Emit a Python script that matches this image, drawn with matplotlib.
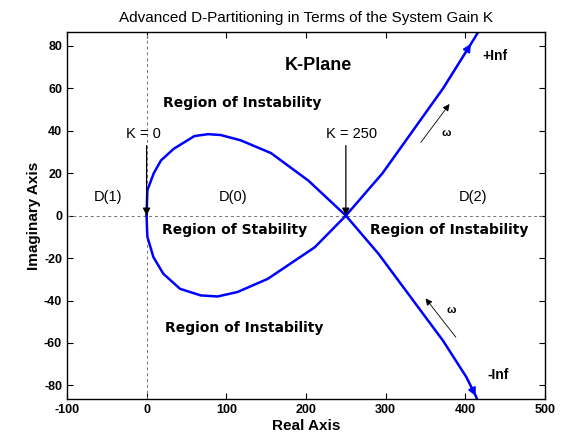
import matplotlib
matplotlib.use("Agg")
import matplotlib.pyplot as plt

plt.rcParams["font.family"] = ["Liberation Sans", "DejaVu Sans"]
plt.rcParams["axes.unicode_minus"] = False

# D-partitioning boundary K(jw), traced branch by branch
upper_loop_x = [0, 0.5, 1, 9, 18, 34, 60, 77, 93, 118, 156, 203, 250]
upper_loop_y = [0, 6, 12, 20, 26, 31.5, 37.5, 38.4, 38, 35.5, 29.5, 16.5, 0]
lower_loop_x = [0, 0.5, 1, 8.6, 21, 42, 68, 89, 114, 152, 211, 250]
lower_loop_y = [0, -6, -10, -19.6, -27.4, -34.5, -37.6, -38.1, -36, -29.8, -14.9, 0]
plus_inf_x = [250, 296, 372, 407, 420]
plus_inf_y = [0, 20, 60, 81, 89]
minus_inf_x = [250, 291, 372, 401, 413, 416]
minus_inf_y = [0, -18, -59, -76, -85, -88]

X_TICKS = [-100, 0, 100, 200, 300, 400, 500]
Y_TICKS = [-80, -60, -40, -20, 0, 20, 40, 60, 80]
K_MARKS = [0, 250]

BLUE = "#0000ff"
REGION_FONT = dict(family="DejaVu Sans", fontsize=10, fontweight="bold",
                   ha="center", va="center")

fig = plt.figure(figsize=(5.62, 4.46), dpi=100)
ax = fig.add_axes([0.119, 0.105, 0.851, 0.823])

ax.axhline(0, color="0.45", linestyle="--", linewidth=0.7, dashes=(3, 3))
ax.axvline(0, color="0.45", linestyle="--", linewidth=0.7, dashes=(3, 3))

for xs, ys in [(upper_loop_x, upper_loop_y), (lower_loop_x, lower_loop_y),
               (plus_inf_x, plus_inf_y), (minus_inf_x, minus_inf_y)]:
    ax.plot(xs, ys, color=BLUE, linewidth=1.8, solid_joinstyle="round")

# direction heads near the ends of the open branches
for xs, ys, i in [(plus_inf_x, plus_inf_y, 3), (minus_inf_x, minus_inf_y, 4)]:
    ax.annotate("", xy=(xs[i], ys[i]), xytext=(xs[i - 1], ys[i - 1]),
                arrowprops=dict(arrowstyle="-|>", color=BLUE, lw=1.2,
                                mutation_scale=12, shrinkA=0, shrinkB=0))

# K markers pointing at the real-axis crossings
for k in K_MARKS:
    ax.annotate("", xy=(k, 0), xytext=(k, 33),
                arrowprops=dict(arrowstyle="-|>", color="black", lw=0.9,
                                mutation_scale=11, shrinkA=0, shrinkB=0))
    ax.text(k + 7 if k else -4, 38.5, f"K = {k}", ha="center", va="center",
            fontsize=10.5)

# omega direction arrows
ax.annotate("", xy=(380, 52.6), xytext=(344, 34.5),
            arrowprops=dict(arrowstyle="-|>", color="black", lw=0.6,
                            mutation_scale=10, shrinkA=0, shrinkB=0))
ax.annotate("", xy=(350, -39), xytext=(388, -57.3),
            arrowprops=dict(arrowstyle="-|>", color="black", lw=0.6,
                            mutation_scale=10, shrinkA=0, shrinkB=0))
ax.text(376, 39, "ω", ha="center", va="center", fontsize=8, fontweight="bold")
ax.text(382, -44.7, "ω", ha="center", va="center", fontsize=8, fontweight="bold")

ax.text(215, 70.6, "K-Plane", ha="center", va="center", fontsize=13, fontweight="bold")
ax.text(120, 53, "Region of Instability", **REGION_FONT)
ax.text(110, -6.7, "Region of Stability", **REGION_FONT)
ax.text(380, -6.7, "Region of Instability", **REGION_FONT)
ax.text(123, -53, "Region of Instability", **REGION_FONT)
ax.text(-49, 8.6, "D(1)", ha="center", va="center", fontsize=10.5)
ax.text(108, 8.6, "D(0)", ha="center", va="center", fontsize=10.5)
ax.text(410, 8.6, "D(2)", ha="center", va="center", fontsize=10.5)
ax.text(437, 75.3, "+Inf", ha="center", va="center", fontsize=10, fontweight="bold")
ax.text(441, -75.3, "-Inf", ha="center", va="center", fontsize=10, fontweight="bold")

ax.set_xlim(-100, 500)
ax.set_ylim(-86.5, 86.5)
ax.set_xticks(X_TICKS)
ax.set_yticks(Y_TICKS)
ax.tick_params(direction="in", top=True, right=True, length=4, width=0.8,
               labelsize=9)
for lbl in ax.get_xticklabels() + ax.get_yticklabels():
    lbl.set_fontweight("bold")
for sp in ax.spines.values():
    sp.set_linewidth(1.0)

ax.set_xlabel("Real Axis", fontsize=11, fontweight="bold", labelpad=2)
ax.set_ylabel("Imaginary Axis", fontsize=11, fontweight="bold", labelpad=2)
ax.set_title("Advanced D-Partitioning in Terms of the System Gain K",
             fontsize=11, pad=7)

fig.savefig("out.png", dpi=100)
plt.close(fig)
